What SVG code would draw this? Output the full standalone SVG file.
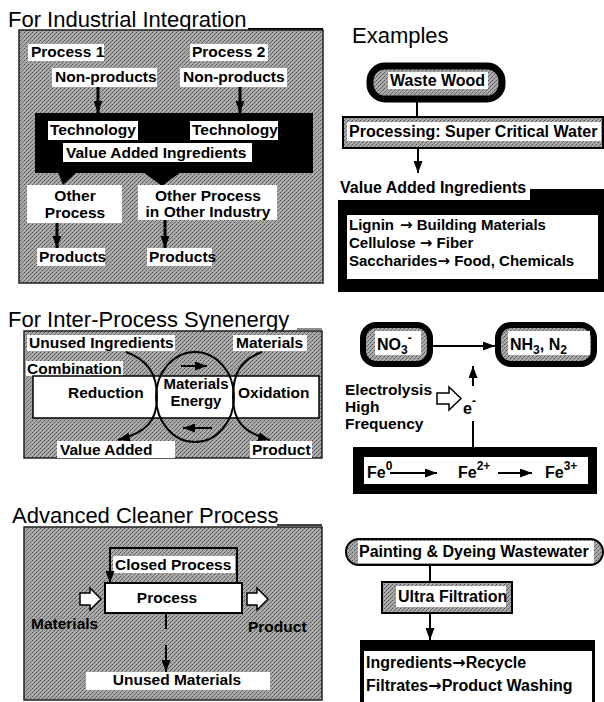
<svg xmlns="http://www.w3.org/2000/svg" width="604" height="702" viewBox="0 0 604 702">
<defs>
<pattern id="st" width="4" height="4" patternUnits="userSpaceOnUse"><rect width="4" height="4" fill="#aaaaaa"/><rect x="0" y="0" width="1" height="1" fill="#505050"/><rect x="2" y="2" width="1" height="1" fill="#505050"/><rect x="3" y="1" width="1" height="1" fill="#707070"/><rect x="1" y="3" width="1" height="1" fill="#808080"/></pattern>
<marker id="a" viewBox="0 0 12 9" refX="12" refY="4.5" markerWidth="12" markerHeight="9" markerUnits="userSpaceOnUse" orient="auto"><path d="M0,0 L12,4.5 L0,9z" fill="#000"/></marker>
<style>
text{font-family:"Liberation Sans",Arial,sans-serif;fill:#000}
.t{font-size:22px}
.l{font-size:15.5px;font-weight:bold}
.r{font-size:16px;font-weight:bold}
.li{font-size:15px;font-weight:bold}
.ar{font-family:"DejaVu Sans",sans-serif;font-weight:bold}
.w{fill:#fff}
.pn{fill:url(#st);stroke:#222;stroke-width:1.5}
.ln{stroke:#000;stroke-width:2;fill:none}
.th{stroke:#000;stroke-width:3;fill:none}
.m{text-anchor:middle}
.ho{fill:#fff;stroke:#000;stroke-width:1.5}
</style>
</defs>

<!-- Panel 1: For Industrial Integration -->
<g id="panel1">
<text class="t" x="8" y="27">For Industrial Integration</text>
<line x1="248" y1="29.5" x2="323" y2="29.5" stroke="#000" stroke-width="3"/>
<rect class="pn" x="19" y="30" width="304" height="253"/>
</g>
<g id="process1"><rect class="w" x="28" y="44" width="76" height="17"/><text class="l" x="31" y="57">Process 1</text></g>
<g id="process2"><rect class="w" x="190" y="44" width="78" height="17"/><text class="l" x="192" y="57">Process 2</text></g>
<g id="nonprod1"><rect class="w" x="52" y="68" width="105" height="19"/><text class="l" x="55" y="82">Non-products</text></g>
<g id="nonprod2"><rect class="w" x="180" y="68" width="107" height="19"/><text class="l" x="183" y="82">Non-products</text></g>
<g id="techblock">
<rect x="35" y="113" width="278" height="60" fill="#000"/>
<rect class="w" x="48" y="121" width="90" height="19"/><text class="l" x="50" y="135">Technology</text>
<rect class="w" x="190" y="121" width="88" height="19"/><text class="l" x="192" y="135">Technology</text>
<rect class="w" x="63" y="143" width="189" height="19"/><text class="l" x="66" y="158">Value Added Ingredients</text>
<polygon points="58,172 77,172 63,185" fill="#000"/>
<polygon points="143,172 181,172 162,186" fill="#000"/>
</g>
<g id="otherprocess"><rect class="w" x="27" y="185" width="95" height="38"/><text class="l m" x="75" y="201">Other</text><text class="l m" x="75" y="218">Process</text></g>
<g id="otherindustry"><rect class="w" x="138" y="185" width="139" height="35"/><text class="l m" x="208" y="201">Other Process</text><text class="l m" x="208" y="217">in Other Industry</text></g>
<g id="products1"><rect class="w" x="37" y="248" width="68" height="18"/><text class="l" x="39" y="262">Products</text></g>
<g id="products2"><rect class="w" x="147" y="248" width="65" height="18"/><text class="l" x="149" y="262">Products</text></g>

<!-- Example 1 -->
<text class="t" x="352" y="43">Examples</text>
<g id="wastewood"><rect x="370" y="66" width="132" height="33" rx="15" fill="url(#st)" stroke="#000" stroke-width="7"/><rect class="w" x="388" y="72" width="100" height="17"/><text class="r" x="390" y="86">Waste Wood</text></g>
<g id="processing"><rect x="343" y="117" width="260" height="31" fill="url(#st)" stroke="#000" stroke-width="2"/><rect class="w" x="347" y="122" width="254" height="19"/><text class="r" x="349" y="137">Processing: Super Critical Water</text></g>
<g id="vai2">
<text class="r" x="340" y="193">Value Added Ingredients</text>
<rect x="530" y="189" width="74" height="12" fill="#000"/>
<rect x="338" y="200" width="266" height="92" fill="#000"/>
<rect class="w" x="347" y="215" width="251" height="64"/>
<text class="li" x="349" y="230">Lignin<tspan x="400" class="ar">→</tspan> Building Materials</text>
<text class="li" x="349" y="248">Cellulose <tspan class="ar">→</tspan> Fiber</text>
<text class="li" x="349" y="266">Saccharides<tspan class="ar">→</tspan> Food, Chemicals</text>
</g>

<!-- Panel 2: Inter-Process Synenergy -->
<g id="panel2">
<text class="t" x="8" y="327">For Inter-Process Synenergy</text>
<line x1="297" y1="329" x2="322" y2="329" stroke="#666" stroke-width="1.5"/>
<rect class="pn" x="24" y="331" width="298" height="127"/>
</g>
<g id="unused"><rect class="w" x="27" y="335" width="148" height="16"/><text class="l" x="29" y="348">Unused Ingredients</text></g>
<g id="materials2"><rect class="w" x="233" y="335" width="74" height="16"/><text class="l" x="236" y="348">Materials</text></g>
<g id="combination"><rect class="w" x="26" y="361" width="97" height="15"/><text class="l" x="27" y="374">Combination</text></g>
<g id="band"><rect x="33" y="376" width="286" height="42" fill="#fff" stroke="#000" stroke-width="1.5"/>
<text class="l" x="68" y="398">Reduction</text><text class="l" x="238" y="398">Oxidation</text></g>
<g id="circle"><ellipse cx="195" cy="397" rx="39" ry="45" fill="none" stroke="#000" stroke-width="2"/>
<text class="li m" x="196" y="389">Materials</text><text class="li m" x="196" y="406">Energy</text></g>
<g id="valueadded"><rect class="w" x="57" y="441" width="118" height="17"/><text class="l" x="60" y="455">Value Added</text></g>
<g id="product2"><rect class="w" x="250" y="441" width="62" height="17"/><text class="l" x="252" y="455">Product</text></g>

<!-- Example 2 -->
<g id="no3"><rect x="363" y="325" width="67" height="39" rx="13" fill="url(#st)" stroke="#000" stroke-width="6"/><rect class="w" x="375" y="331" width="46" height="24"/><text class="r" x="377" y="350" font-size="17">NO<tspan font-size="12" dy="4">3</tspan><tspan font-size="12" dy="-12">-</tspan></text></g>
<g id="nh3"><rect x="498" y="325" width="96" height="39" rx="13" fill="url(#st)" stroke="#000" stroke-width="6"/><rect class="w" x="508" y="331" width="82" height="24"/><text class="r" x="510" y="350" font-size="17">NH<tspan font-size="12" dy="4">3</tspan><tspan dy="-4">, N</tspan><tspan font-size="12" dy="4">2</tspan></text></g>
<g id="electrolysis"><text class="l" x="345" y="395">Electrolysis</text><text class="l" x="345" y="412">High</text><text class="l" x="345" y="429">Frequency</text>
<polygon class="ho" points="437,393 449,393 449,387 461,398.5 449,410 449,404 437,404"/>
<text class="r" x="463" y="414">e<tspan font-size="12" dy="-9">-</tspan></text></g>
<g id="fe"><rect x="353" y="447" width="244" height="47" fill="#000"/><rect class="w" x="364" y="457" width="224" height="27"/>
<text class="r" x="367" y="478">Fe<tspan font-size="12" dy="-8">0</tspan></text>
<text class="r" x="458" y="478">Fe<tspan font-size="12" dy="-8">2+</tspan></text>
<text class="r" x="545" y="478">Fe<tspan font-size="12" dy="-8">3+</tspan></text></g>

<!-- Panel 3: Advanced Cleaner Process -->
<g id="panel3">
<text class="t" x="12" y="523">Advanced Cleaner Process</text>
<line x1="277" y1="525" x2="322" y2="525" stroke="#000" stroke-width="1.5"/>
<rect class="pn" x="24" y="527" width="298" height="173"/>
</g>
<g id="closed"><rect class="w" x="113" y="556" width="122" height="17"/><text class="l" x="115" y="570">Closed Process</text></g>
<g id="process"><rect x="105" y="583" width="137" height="30" fill="#fff" stroke="#000" stroke-width="2"/><text class="l m" x="167" y="603">Process</text></g>
<g id="materials3"><polygon class="ho" points="80,593 90,593 90,588 101,599 90,610 90,605 80,605"/><text class="l" x="31" y="629">Materials</text></g>
<g id="product3"><polygon class="ho" points="247,593 257,593 257,588 268,599 257,610 257,605 247,605"/><text class="l" x="248" y="632">Product</text></g>
<g id="unusedmat"><rect class="w" x="86" y="672" width="184" height="18"/><text class="l m" x="177" y="685">Unused Materials</text></g>

<!-- Example 3 -->
<g id="painting"><rect x="346" y="539" width="257" height="26" rx="13" fill="url(#st)" stroke="#000" stroke-width="2"/><rect class="w" x="358" y="541" width="236" height="22"/><text class="r" x="359" y="557">Painting &amp; Dyeing Wastewater</text></g>
<g id="ultra"><rect x="382" y="582" width="130" height="31" fill="url(#st)" stroke="#000" stroke-width="2"/><rect class="w" x="396" y="586" width="110" height="21"/><text class="r" x="398" y="602">Ultra Filtration</text></g>
<g id="results"><rect x="360" y="640" width="235" height="62" fill="#000"/><rect class="w" x="364" y="651" width="228" height="51"/>
<text class="r" x="366" y="668">Ingredients<tspan class="ar">→</tspan>Recycle</text><text class="r" x="366" y="691">Filtrates<tspan class="ar">→</tspan>Product Washing</text></g>

<g id="connectors">
<line class="th" x1="98" y1="87" x2="98" y2="113" marker-end="url(#a)"/>
<line class="th" x1="240" y1="87" x2="240" y2="113" marker-end="url(#a)"/>
<line class="th" x1="57" y1="223" x2="57" y2="248" marker-end="url(#a)"/>
<line class="th" x1="165" y1="220" x2="165" y2="248" marker-end="url(#a)"/>
<line class="ln" x1="417" y1="102" x2="417" y2="117" stroke-width="2.5"/>
<line class="ln" x1="418" y1="148" x2="418" y2="173" stroke-width="2.5" marker-end="url(#a)"/>
<line class="ln" x1="181" y1="366" x2="207" y2="366" marker-end="url(#a)"/>
<line class="ln" x1="212" y1="428" x2="183" y2="428" marker-end="url(#a)"/>
<path class="ln" d="M126,352 C148,360 157,374 157,397 C157,420 148,432 118,440" marker-end="url(#a)"/>
<path class="ln" d="M262,352 C240,360 233,374 233,397 C233,420 242,432 270,440" marker-end="url(#a)"/>
<line class="ln" x1="433" y1="346" x2="495" y2="346" marker-end="url(#a)"/>
<line class="ln" x1="473" y1="386" x2="473" y2="366" marker-end="url(#a)"/>
<line class="ln" x1="473" y1="421" x2="473" y2="447"/>
<line class="ln" x1="390" y1="473" x2="437" y2="473" stroke-width="2.5" marker-end="url(#a)"/>
<line class="ln" x1="498" y1="473" x2="532" y2="473" stroke-width="2.5" marker-end="url(#a)"/>
<path class="ln" d="M237,583 V548 H110 V583" marker-end="url(#a)"/>
<line class="ln" x1="166" y1="613" x2="166" y2="629"/>
<line class="ln" x1="166" y1="645" x2="166" y2="672" marker-end="url(#a)"/>
<line class="ln" x1="430" y1="565" x2="430" y2="582" stroke-width="2.5"/>
<line class="ln" x1="430" y1="613" x2="430" y2="640" stroke-width="2.5" marker-end="url(#a)"/>
</g>
</svg>
